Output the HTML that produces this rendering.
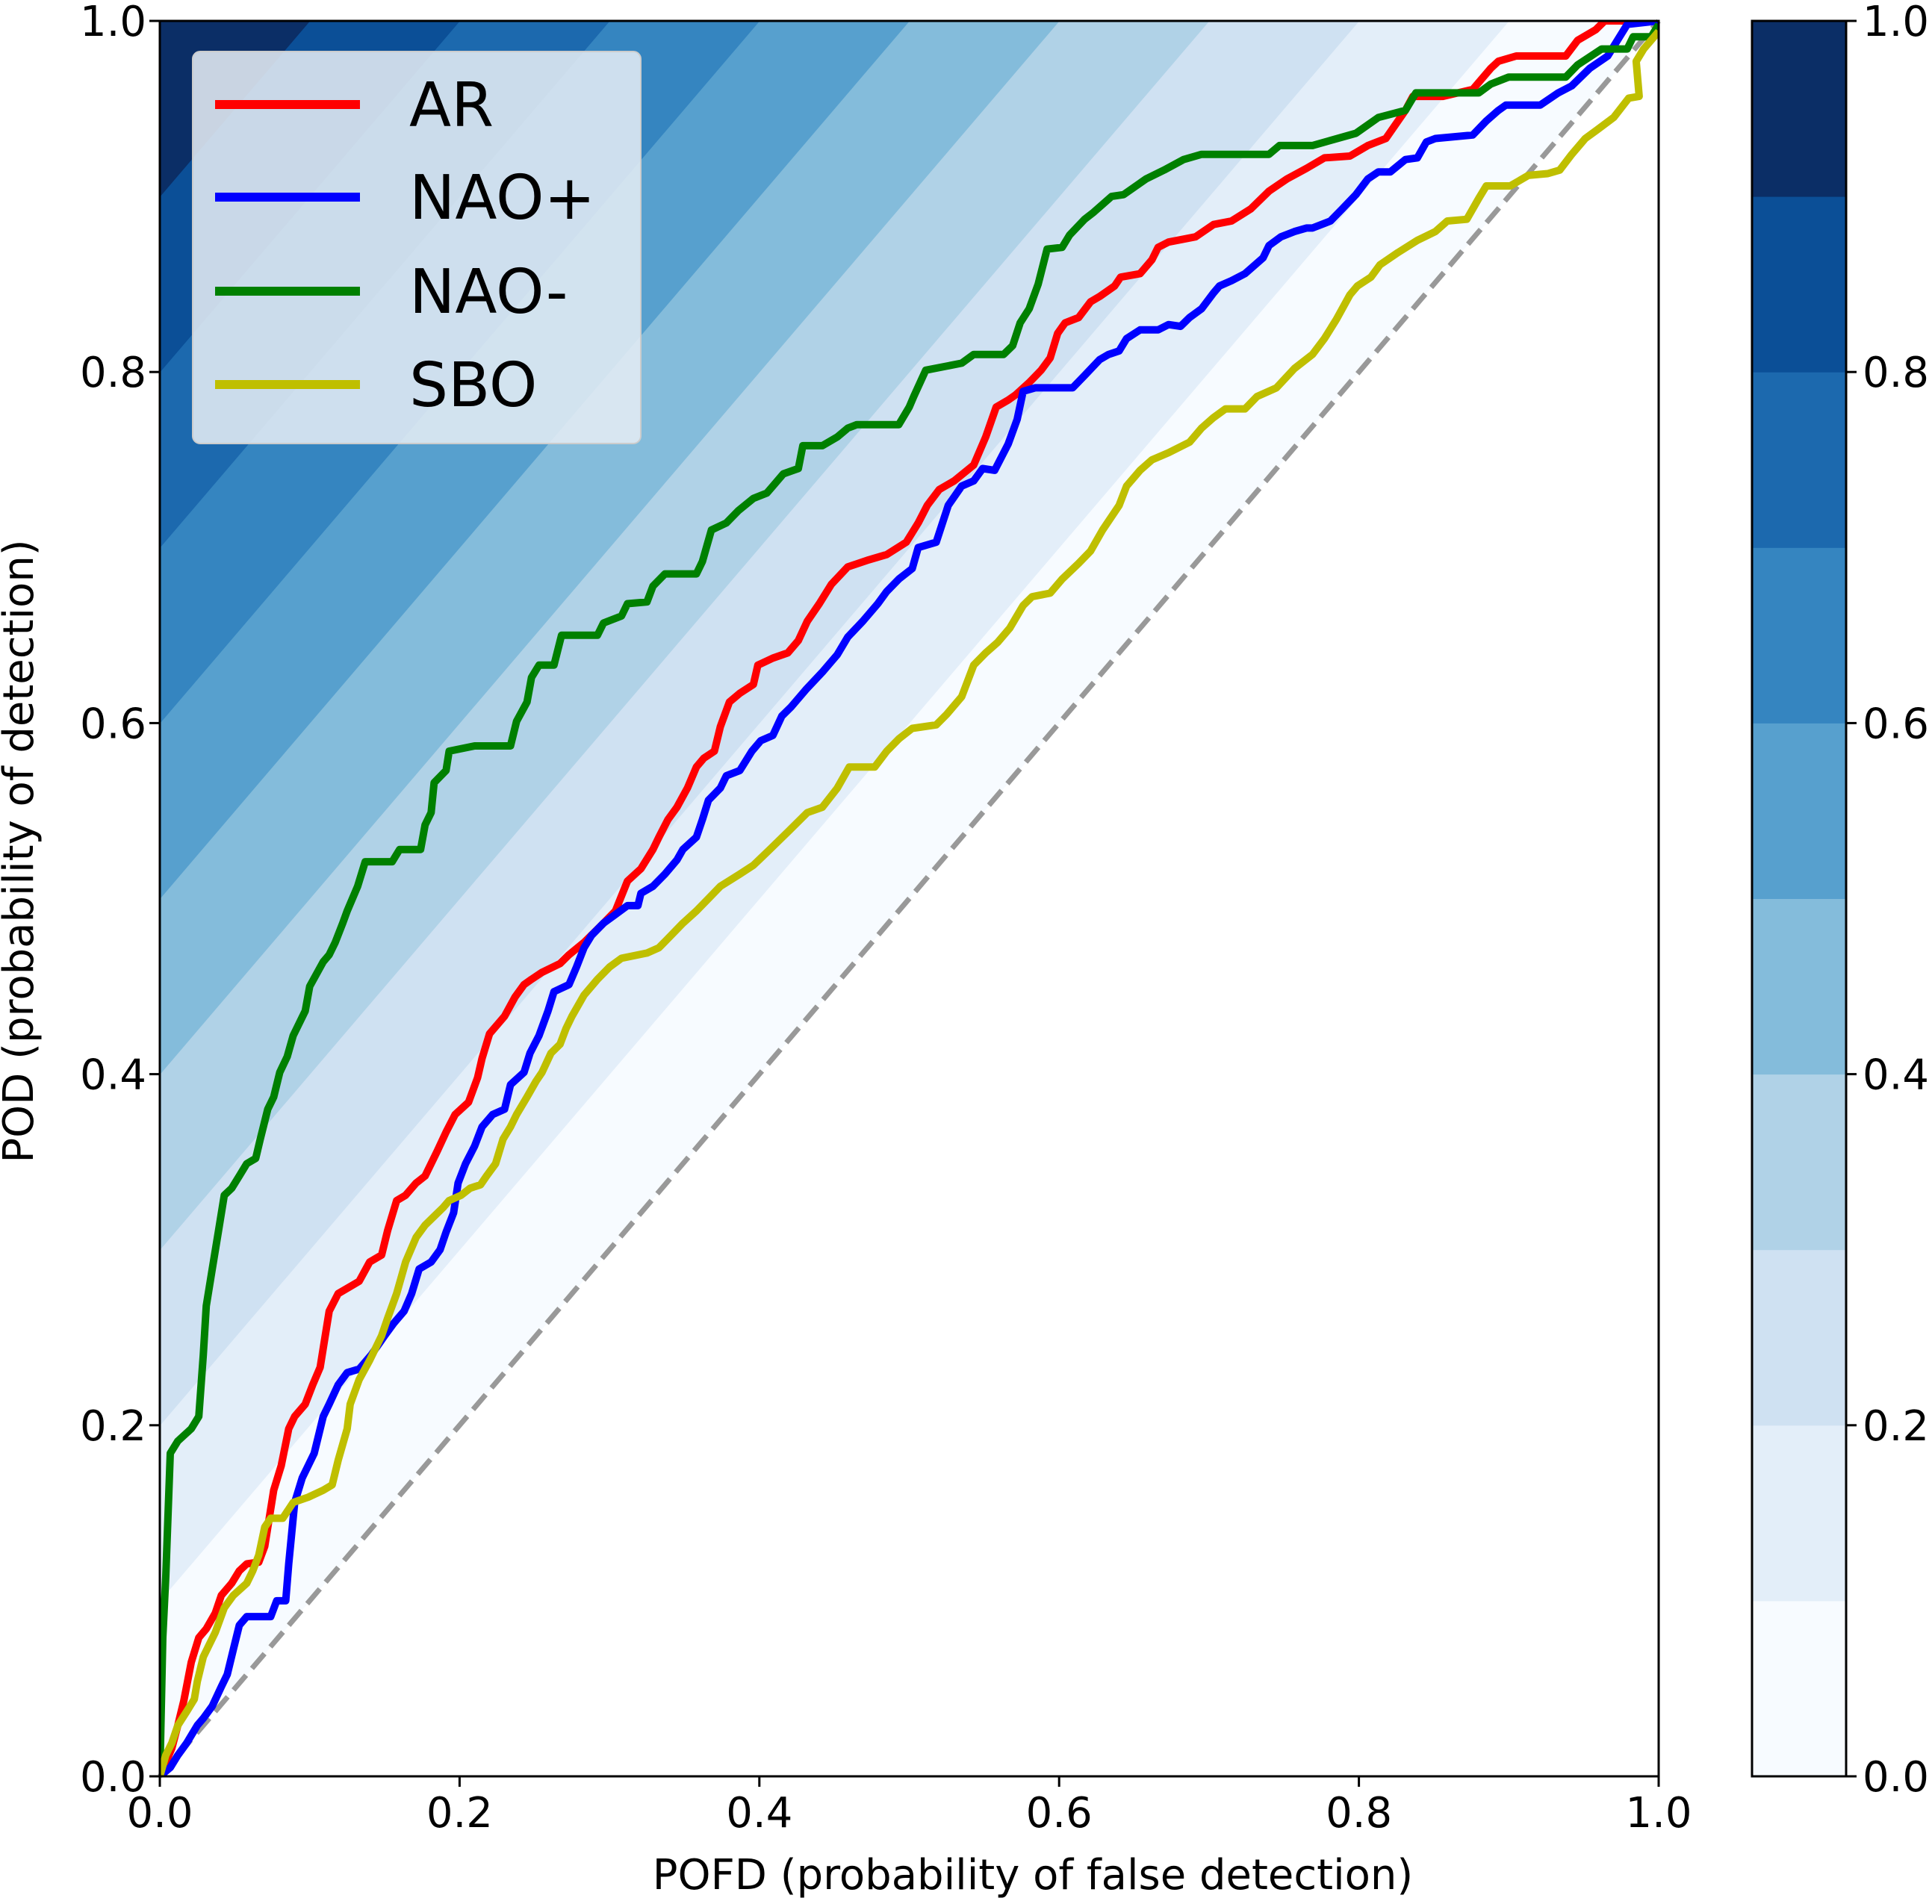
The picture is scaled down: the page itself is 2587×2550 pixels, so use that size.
<!DOCTYPE html>
<html><head><meta charset="utf-8"><style>
html,body{margin:0;padding:0;background:#fff;width:2587px;height:2550px;overflow:hidden;}
svg{display:block;font-family:"DejaVu Sans","Liberation Sans",sans-serif;}
</style></head><body>
<svg id="chart" width="2587" height="2550" viewBox="0 0 2587 2550" xmlns="http://www.w3.org/2000/svg"></svg>
<script>
const levels=[0,0.1,0.2,0.3,0.4,0.5,0.6,0.7,0.8,0.9,1.0];
const levelColors=["#f7fbff","#e3eef9","#cfe1f2","#b0d2e7","#84bcdb","#57a0ce","#3585c0","#1c69ae","#0b4f97","#0b2e66"];
const xTicks=[0,0.2,0.4,0.6,0.8,1.0];
const yTicks=[0,0.2,0.4,0.6,0.8,1.0];
const tickLabels=["0.0","0.2","0.4","0.6","0.8","1.0"];
const seriesNames=["AR","NAO+","NAO-","SBO"];
const seriesColors=["#ff0000","#0000ff","#008000","#bfbf00"];
const arX=[0,0.008,0.012,0.016,0.021,0.026,0.031,0.037,0.041,0.048,0.053,0.058,0.066,0.070,0.076,0.081,0.086,0.090,0.097,0.102,0.107,0.113,0.119,0.127,0.133,0.140,0.148,0.152,0.158,0.164,0.171,0.177,0.185,0.191,0.197,0.206,0.212,0.215,0.220,0.230,0.237,0.243,0.248,0.255,0.267,0.273,0.283,0.296,0.304,0.312,0.321,0.329,0.333,0.339,0.345,0.352,0.358,0.363,0.370,0.374,0.380,0.387,0.396,0.399,0.409,0.419,0.426,0.432,0.440,0.448,0.459,0.473,0.485,0.498,0.506,0.512,0.520,0.530,0.543,0.551,0.558,0.566,0.571,0.580,0.588,0.594,0.599,0.604,0.613,0.621,0.627,0.637,0.641,0.654,0.662,0.666,0.673,0.691,0.703,0.715,0.728,0.740,0.752,0.765,0.777,0.794,0.806,0.818,0.831,0.836,0.856,0.876,0.888,0.893,0.905,0.938,0.946,0.958,0.964,0.975,1];
const arY=[0,0.016,0.029,0.043,0.065,0.079,0.084,0.093,0.103,0.110,0.117,0.121,0.122,0.131,0.163,0.177,0.198,0.205,0.212,0.223,0.233,0.265,0.275,0.279,0.282,0.293,0.297,0.311,0.328,0.331,0.338,0.342,0.356,0.367,0.377,0.384,0.398,0.409,0.423,0.433,0.444,0.451,0.454,0.458,0.463,0.468,0.475,0.486,0.493,0.510,0.517,0.528,0.535,0.545,0.552,0.563,0.575,0.580,0.584,0.598,0.612,0.617,0.622,0.633,0.637,0.640,0.647,0.658,0.668,0.679,0.689,0.693,0.696,0.703,0.714,0.724,0.733,0.738,0.747,0.763,0.780,0.784,0.787,0.794,0.801,0.808,0.822,0.828,0.831,0.840,0.843,0.849,0.854,0.856,0.864,0.871,0.874,0.877,0.884,0.886,0.893,0.903,0.910,0.916,0.922,0.923,0.929,0.933,0.949,0.957,0.957,0.961,0.973,0.977,0.980,0.980,0.989,0.995,1.0,1.0,1.0];
const naopX=[0,0.007,0.012,0.018,0.025,0.029,0.035,0.041,0.045,0.049,0.053,0.058,0.074,0.078,0.084,0.086,0.090,0.095,0.103,0.109,0.113,0.119,0.125,0.133,0.141,0.150,0.156,0.163,0.168,0.173,0.181,0.187,0.191,0.196,0.199,0.204,0.210,0.215,0.222,0.230,0.234,0.243,0.247,0.253,0.259,0.263,0.273,0.278,0.283,0.288,0.296,0.304,0.312,0.319,0.321,0.329,0.337,0.345,0.349,0.358,0.362,0.366,0.374,0.378,0.387,0.395,0.401,0.409,0.415,0.421,0.431,0.442,0.452,0.459,0.469,0.479,0.485,0.493,0.502,0.506,0.518,0.526,0.535,0.543,0.549,0.557,0.566,0.572,0.576,0.584,0.609,0.617,0.627,0.633,0.640,0.645,0.654,0.666,0.673,0.681,0.687,0.695,0.703,0.707,0.715,0.724,0.736,0.740,0.748,0.757,0.765,0.769,0.781,0.789,0.798,0.806,0.813,0.821,0.831,0.839,0.845,0.851,0.876,0.885,0.893,0.898,0.921,0.933,0.942,0.954,0.966,0.979,1];
const naopY=[0,0.005,0.012,0.019,0.029,0.033,0.040,0.051,0.058,0.072,0.086,0.091,0.091,0.100,0.100,0.121,0.156,0.170,0.184,0.205,0.212,0.223,0.230,0.232,0.240,0.251,0.258,0.265,0.275,0.289,0.293,0.300,0.310,0.321,0.338,0.349,0.359,0.370,0.377,0.380,0.394,0.401,0.412,0.422,0.436,0.447,0.451,0.461,0.472,0.479,0.486,0.491,0.496,0.496,0.503,0.507,0.514,0.522,0.528,0.535,0.545,0.556,0.563,0.570,0.573,0.584,0.590,0.593,0.604,0.609,0.619,0.629,0.639,0.649,0.658,0.668,0.675,0.682,0.688,0.700,0.703,0.724,0.735,0.738,0.745,0.744,0.759,0.773,0.789,0.791,0.791,0.798,0.807,0.810,0.812,0.819,0.824,0.824,0.827,0.826,0.831,0.836,0.845,0.849,0.852,0.856,0.865,0.872,0.877,0.880,0.882,0.882,0.886,0.893,0.901,0.910,0.914,0.914,0.921,0.922,0.931,0.933,0.935,0.943,0.949,0.952,0.952,0.959,0.963,0.973,0.980,0.998,1.0];
const naomX=[0,0.002,0.004,0.007,0.012,0.021,0.026,0.029,0.031,0.035,0.039,0.043,0.048,0.053,0.058,0.064,0.067,0.072,0.076,0.080,0.085,0.089,0.097,0.100,0.109,0.113,0.117,0.122,0.125,0.132,0.137,0.140,0.155,0.160,0.174,0.177,0.181,0.183,0.191,0.193,0.210,0.234,0.238,0.245,0.248,0.253,0.263,0.268,0.292,0.296,0.308,0.312,0.325,0.329,0.337,0.358,0.362,0.368,0.378,0.386,0.396,0.405,0.409,0.416,0.426,0.429,0.442,0.452,0.459,0.465,0.493,0.500,0.503,0.511,0.535,0.543,0.563,0.569,0.574,0.580,0.586,0.592,0.602,0.607,0.617,0.623,0.635,0.643,0.658,0.670,0.683,0.695,0.740,0.747,0.769,0.798,0.813,0.831,0.838,0.880,0.888,0.900,0.938,0.946,0.962,0.979,0.983,0.995,1];
const naomY=[0,0.079,0.114,0.184,0.191,0.198,0.205,0.240,0.268,0.289,0.310,0.331,0.335,0.342,0.349,0.352,0.363,0.380,0.387,0.401,0.410,0.422,0.436,0.450,0.464,0.468,0.475,0.486,0.493,0.507,0.521,0.521,0.521,0.528,0.528,0.542,0.549,0.566,0.573,0.584,0.587,0.587,0.601,0.612,0.626,0.633,0.633,0.650,0.650,0.657,0.661,0.668,0.669,0.678,0.685,0.685,0.692,0.710,0.714,0.721,0.728,0.731,0.735,0.742,0.745,0.758,0.758,0.763,0.768,0.770,0.770,0.780,0.786,0.801,0.805,0.810,0.810,0.815,0.828,0.836,0.850,0.870,0.871,0.878,0.887,0.891,0.900,0.901,0.910,0.915,0.921,0.924,0.924,0.929,0.929,0.936,0.945,0.949,0.959,0.959,0.964,0.968,0.968,0.975,0.984,0.984,0.991,0.991,0.998];
const sboX=[0,0.004,0.008,0.012,0.018,0.023,0.025,0.029,0.033,0.037,0.043,0.049,0.058,0.062,0.066,0.070,0.074,0.082,0.089,0.099,0.109,0.115,0.119,0.125,0.127,0.133,0.140,0.144,0.148,0.152,0.158,0.164,0.171,0.177,0.183,0.189,0.193,0.201,0.207,0.214,0.218,0.224,0.229,0.234,0.238,0.245,0.251,0.255,0.261,0.267,0.271,0.275,0.283,0.292,0.300,0.308,0.325,0.333,0.341,0.349,0.358,0.366,0.374,0.387,0.396,0.407,0.419,0.432,0.442,0.452,0.460,0.477,0.485,0.493,0.502,0.518,0.525,0.535,0.543,0.551,0.559,0.567,0.576,0.582,0.594,0.602,0.613,0.621,0.629,0.640,0.645,0.654,0.662,0.673,0.687,0.695,0.703,0.711,0.724,0.732,0.745,0.757,0.769,0.777,0.785,0.794,0.799,0.808,0.814,0.826,0.839,0.851,0.859,0.872,0.880,0.885,0.901,0.913,0.926,0.934,0.942,0.951,0.959,0.970,0.980,0.987,0.985,0.990,1];
const sboY=[0,0.012,0.019,0.029,0.037,0.044,0.054,0.068,0.075,0.082,0.096,0.103,0.110,0.117,0.126,0.142,0.147,0.147,0.156,0.159,0.163,0.166,0.180,0.198,0.212,0.226,0.237,0.244,0.251,0.261,0.275,0.293,0.307,0.314,0.319,0.324,0.328,0.331,0.335,0.337,0.342,0.349,0.363,0.370,0.377,0.387,0.396,0.401,0.412,0.417,0.426,0.433,0.445,0.454,0.461,0.466,0.469,0.472,0.479,0.486,0.493,0.500,0.507,0.514,0.519,0.528,0.538,0.549,0.552,0.563,0.575,0.575,0.584,0.591,0.597,0.599,0.605,0.615,0.633,0.640,0.646,0.654,0.667,0.672,0.674,0.682,0.691,0.698,0.710,0.724,0.735,0.744,0.750,0.754,0.760,0.768,0.774,0.779,0.779,0.786,0.791,0.802,0.810,0.819,0.830,0.844,0.849,0.854,0.861,0.868,0.875,0.880,0.886,0.887,0.899,0.906,0.906,0.912,0.913,0.915,0.924,0.933,0.938,0.945,0.956,0.957,0.977,0.984,0.994];
const seriesX=[arX,naopX,naomX,sboX];
const seriesY=[arY,naopY,naomY,sboY];

const NS="http://www.w3.org/2000/svg";
const svg=document.getElementById('chart');
const X0=214,X1=2221,Y0=28,Y1=2379;
const sx=v=>X0+(X1-X0)*v;
const sy=v=>Y1-(Y1-Y0)*v;
function mk(tag,attrs,parent){const e=document.createElementNS(NS,tag);for(const k in attrs)e.setAttribute(k,attrs[k]);(parent||svg).appendChild(e);return e;}

const defs=mk('defs',{});
const cp=mk('clipPath',{id:'plotclip'},defs);
mk('rect',{x:X0,y:Y0,width:X1-X0,height:Y1-Y0},cp);

const bg=mk('g',{});


for(let k=0;k<levelColors.length;k++){
  const a=levels[k],b=levels[k+1];
  const pts=[[0,a],[0,b],[1-b,1],[1-a,1]].map(p=>sx(p[0]).toFixed(1)+','+sy(p[1]).toFixed(1)).join(' ');
  const p=mk('polygon',{points:pts,fill:levelColors[k],stroke:levelColors[k],'stroke-width':1},bg);
  
  
}

const diag=mk('line',{x1:sx(0),y1:sy(0),x2:sx(1),y2:sy(1),stroke:'#999999','stroke-width':7,'stroke-dasharray':'26,12'});



const lineNames=['roc-line-ar','roc-line-nao-plus','roc-line-nao-minus','roc-line-sbo'];
const lines=mk('g',{'clip-path':'url(#plotclip)'});
for(let s=0;s<seriesNames.length;s++){
  const d=seriesX[s].map((x,i)=>(i?'L':'M')+sx(x).toFixed(1)+','+sy(seriesY[s][i]).toFixed(1)).join('');
  const p=mk('path',{d:d,fill:'none',stroke:seriesColors[s],'stroke-width':10,'stroke-linejoin':'round'},lines);
  
  
}

const frame=mk('rect',{x:X0,y:Y0,width:X1-X0,height:Y1-Y0,fill:'none',stroke:'#000','stroke-width':3});



for(let i=0;i<xTicks.length;i++){
  const x=sx(xTicks[i]);
  const t=mk('line',{x1:x,y1:Y1,x2:x,y2:Y1+14,stroke:'#000','stroke-width':3});
  
  
  const l=mk('text',{x:x,y:2447,'text-anchor':'middle','font-size':56,fill:'#000'});
  l.textContent=tickLabels[i];
  
  
}
for(let i=0;i<yTicks.length;i++){
  const y=sy(yTicks[i]);
  const t=mk('line',{x1:X0-14,y1:y,x2:X0,y2:y,stroke:'#000','stroke-width':3});
  
  
  const l=mk('text',{x:196,y:y+20,'text-anchor':'end','font-size':56,fill:'#000'});
  l.textContent=tickLabels[i];
  
  
}
const xl=mk('text',{x:1383,y:2530,'text-anchor':'middle','font-size':56,fill:'#000'});
xl.textContent='POFD (probability of false detection)';


const yl=mk('text',{x:0,y:0,'text-anchor':'middle','font-size':56,fill:'#000',transform:'translate(44,1140) rotate(-90)'});
yl.textContent='POD (probability of detection)';



const lg=mk('g',{});


mk('rect',{x:258,y:69,width:600,height:525,rx:10,fill:'#e4ecf4','fill-opacity':0.88,stroke:'#cccccc','stroke-width':2},lg);
const rowY=[140,264,390,515];
for(let s=0;s<seriesNames.length;s++){
  const e=mk('g',{},lg);
  
  
  mk('line',{x1:288,y1:rowY[s],x2:482,y2:rowY[s],stroke:seriesColors[s],'stroke-width':12},e);
  const t=mk('text',{x:548,y:rowY[s]+29,'font-size':82,fill:'#000'},e);
  t.textContent=seriesNames[s];
}

const CB0=2346,CB1=2472;
const cb=mk('g',{});


for(let k=0;k<levelColors.length;k++){
  const ya=sy(levels[k+1]),yb=sy(levels[k]);
  const r=mk('rect',{x:CB0,y:ya,width:CB1-CB0,height:yb-ya+0.5,fill:levelColors[k]},cb);
  
  
}
mk('rect',{x:CB0,y:Y0,width:CB1-CB0,height:Y1-Y0,fill:'none',stroke:'#000','stroke-width':3},cb);
for(let i=0;i<yTicks.length;i++){
  const y=sy(yTicks[i]);
  mk('line',{x1:CB1,y1:y,x2:CB1+14,y2:y,stroke:'#000','stroke-width':3},cb);
  const l=mk('text',{x:2494,y:y+20,'font-size':56,fill:'#000'},cb);
  l.textContent=tickLabels[i];
  
  
}
</script>
</body></html>
